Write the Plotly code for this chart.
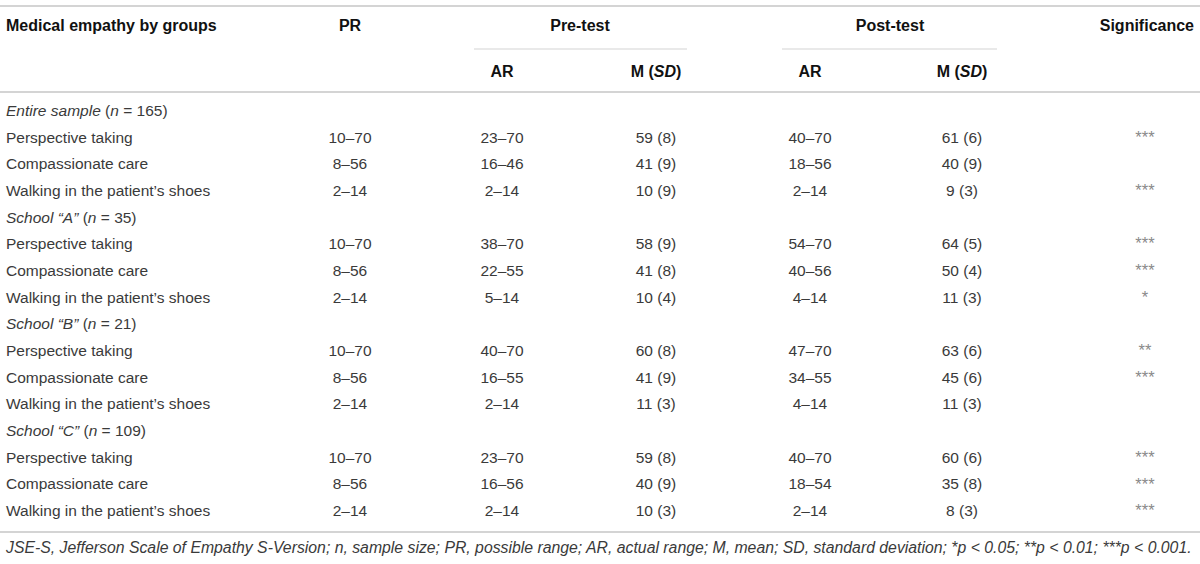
import plotly.graph_objects as go

# table content
groups = ["Entire sample", "School “A”", "School “B”", "School “C”"]
group_n = [165, 35, 21, 109]
subscales = ["Perspective taking", "Compassionate care", "Walking in the patient’s shoes"]
possible_range = ["10–70", "8–56", "2–14"]

# one entry per group x subscale (entire, A, B, C)
pre_ar = ["23–70", "16–46", "2–14",
          "38–70", "22–55", "5–14",
          "40–70", "16–55", "2–14",
          "23–70", "16–56", "2–14"]
pre_m = ["59 (8)", "41 (9)", "10 (9)",
         "58 (9)", "41 (8)", "10 (4)",
         "60 (8)", "41 (9)", "11 (3)",
         "59 (8)", "40 (9)", "10 (3)"]
post_ar = ["40–70", "18–56", "2–14",
           "54–70", "40–56", "4–14",
           "47–70", "34–55", "4–14",
           "40–70", "18–54", "2–14"]
post_m = ["61 (6)", "40 (9)", "9 (3)",
          "64 (5)", "50 (4)", "11 (3)",
          "63 (6)", "45 (6)", "11 (3)",
          "60 (6)", "35 (8)", "8 (3)"]
signif = ["***", "", "***",
          "***", "***", "*",
          "**", "***", "",
          "***", "***", "***"]

footnote = ("<i>JSE-S, Jefferson Scale of Empathy S-Version; n, sample size; PR, possible range; "
            "AR, actual range; M, mean; SD, standard deviation; *p &lt; 0.05; **p &lt; 0.01; "
            "***p &lt; 0.001.</i>")

# build the rows
labels, c_pr, c_pre_ar, c_pre_m, c_post_ar, c_post_m, c_sig = [], [], [], [], [], [], []
k = 0
for g, n in zip(groups, group_n):
    labels.append(f"<i>{g}</i> (<i>n</i> = {n})")
    for lst in (c_pr, c_pre_ar, c_pre_m, c_post_ar, c_post_m, c_sig):
        lst.append("")
    for j, s in enumerate(subscales):
        labels.append(s)
        c_pr.append(possible_range[j])
        c_pre_ar.append(pre_ar[k])
        c_pre_m.append(pre_m[k])
        c_post_ar.append(post_ar[k])
        c_post_m.append(post_m[k])
        c_sig.append(signif[k])
        k += 1

row0, pitch = 112, 26.67
ys = [row0 + i * pitch for i in range(len(labels))]

FONT = "Liberation Sans, Arial, sans-serif"
TXT = "#3a3a3a"
HEAD = "#111111"
LINE = "#d4d4d4"

fig = go.Figure()

def col(x, texts, pos="middle center", color=TXT, size=15.5):
    fig.add_trace(go.Scatter(
        x=[x] * len(texts), y=ys[:len(texts)], text=texts, mode="text",
        textposition=pos, textfont=dict(family=FONT, size=size, color=color),
        hoverinfo="skip", showlegend=False))

col(6, labels, "middle right")
col(350, c_pr)
col(502, c_pre_ar)
col(656, c_pre_m)
col(810, c_post_ar)
col(962, c_post_m)
col(1145, c_sig, color="#8a8a8a", size=16.5)

# headers
heads = [
    (6, 27, "Medical empathy by groups", "middle right"),
    (350, 27, "PR", "middle center"),
    (580, 27, "Pre-test", "middle center"),
    (890, 27, "Post-test", "middle center"),
    (1194, 27, "Significance", "middle left"),
    (502, 73, "AR", "middle center"),
    (656, 73, "M (<i>SD</i>)", "middle center"),
    (810, 73, "AR", "middle center"),
    (962, 73, "M (<i>SD</i>)", "middle center"),
]
for x, y, t, p in heads:
    fig.add_trace(go.Scatter(
        x=[x], y=[y], text=[f"<b>{t}</b>"], mode="text", textposition=p,
        textfont=dict(family=FONT, size=16, color=HEAD),
        hoverinfo="skip", showlegend=False))

fig.add_trace(go.Scatter(
    x=[6], y=[549], text=[footnote], mode="text", textposition="middle right",
    textfont=dict(family=FONT, size=15.8, color=TXT),
    hoverinfo="skip", showlegend=False))

# rules
for x0, x1, y, w in [(0, 1200, 6, 2), (474, 687, 49, 1.2), (782, 997, 49, 1.2),
                     (0, 1200, 92, 2), (0, 1200, 532, 2)]:
    fig.add_shape(type="line", x0=x0, x1=x1, y0=y, y1=y, xref="x", yref="y",
                  line=dict(color=LINE, width=w))

fig.update_layout(
    width=1200, height=564,
    margin=dict(l=0, r=0, t=0, b=0),
    paper_bgcolor="white", plot_bgcolor="white",
    xaxis=dict(range=[0, 1200], visible=False, fixedrange=True),
    yaxis=dict(range=[564, 0], visible=False, fixedrange=True),
    hovermode=False,
)

fig.write_html("out.html", config={"displayModeBar": False},
               post_script="document.body.style.margin='0';")
